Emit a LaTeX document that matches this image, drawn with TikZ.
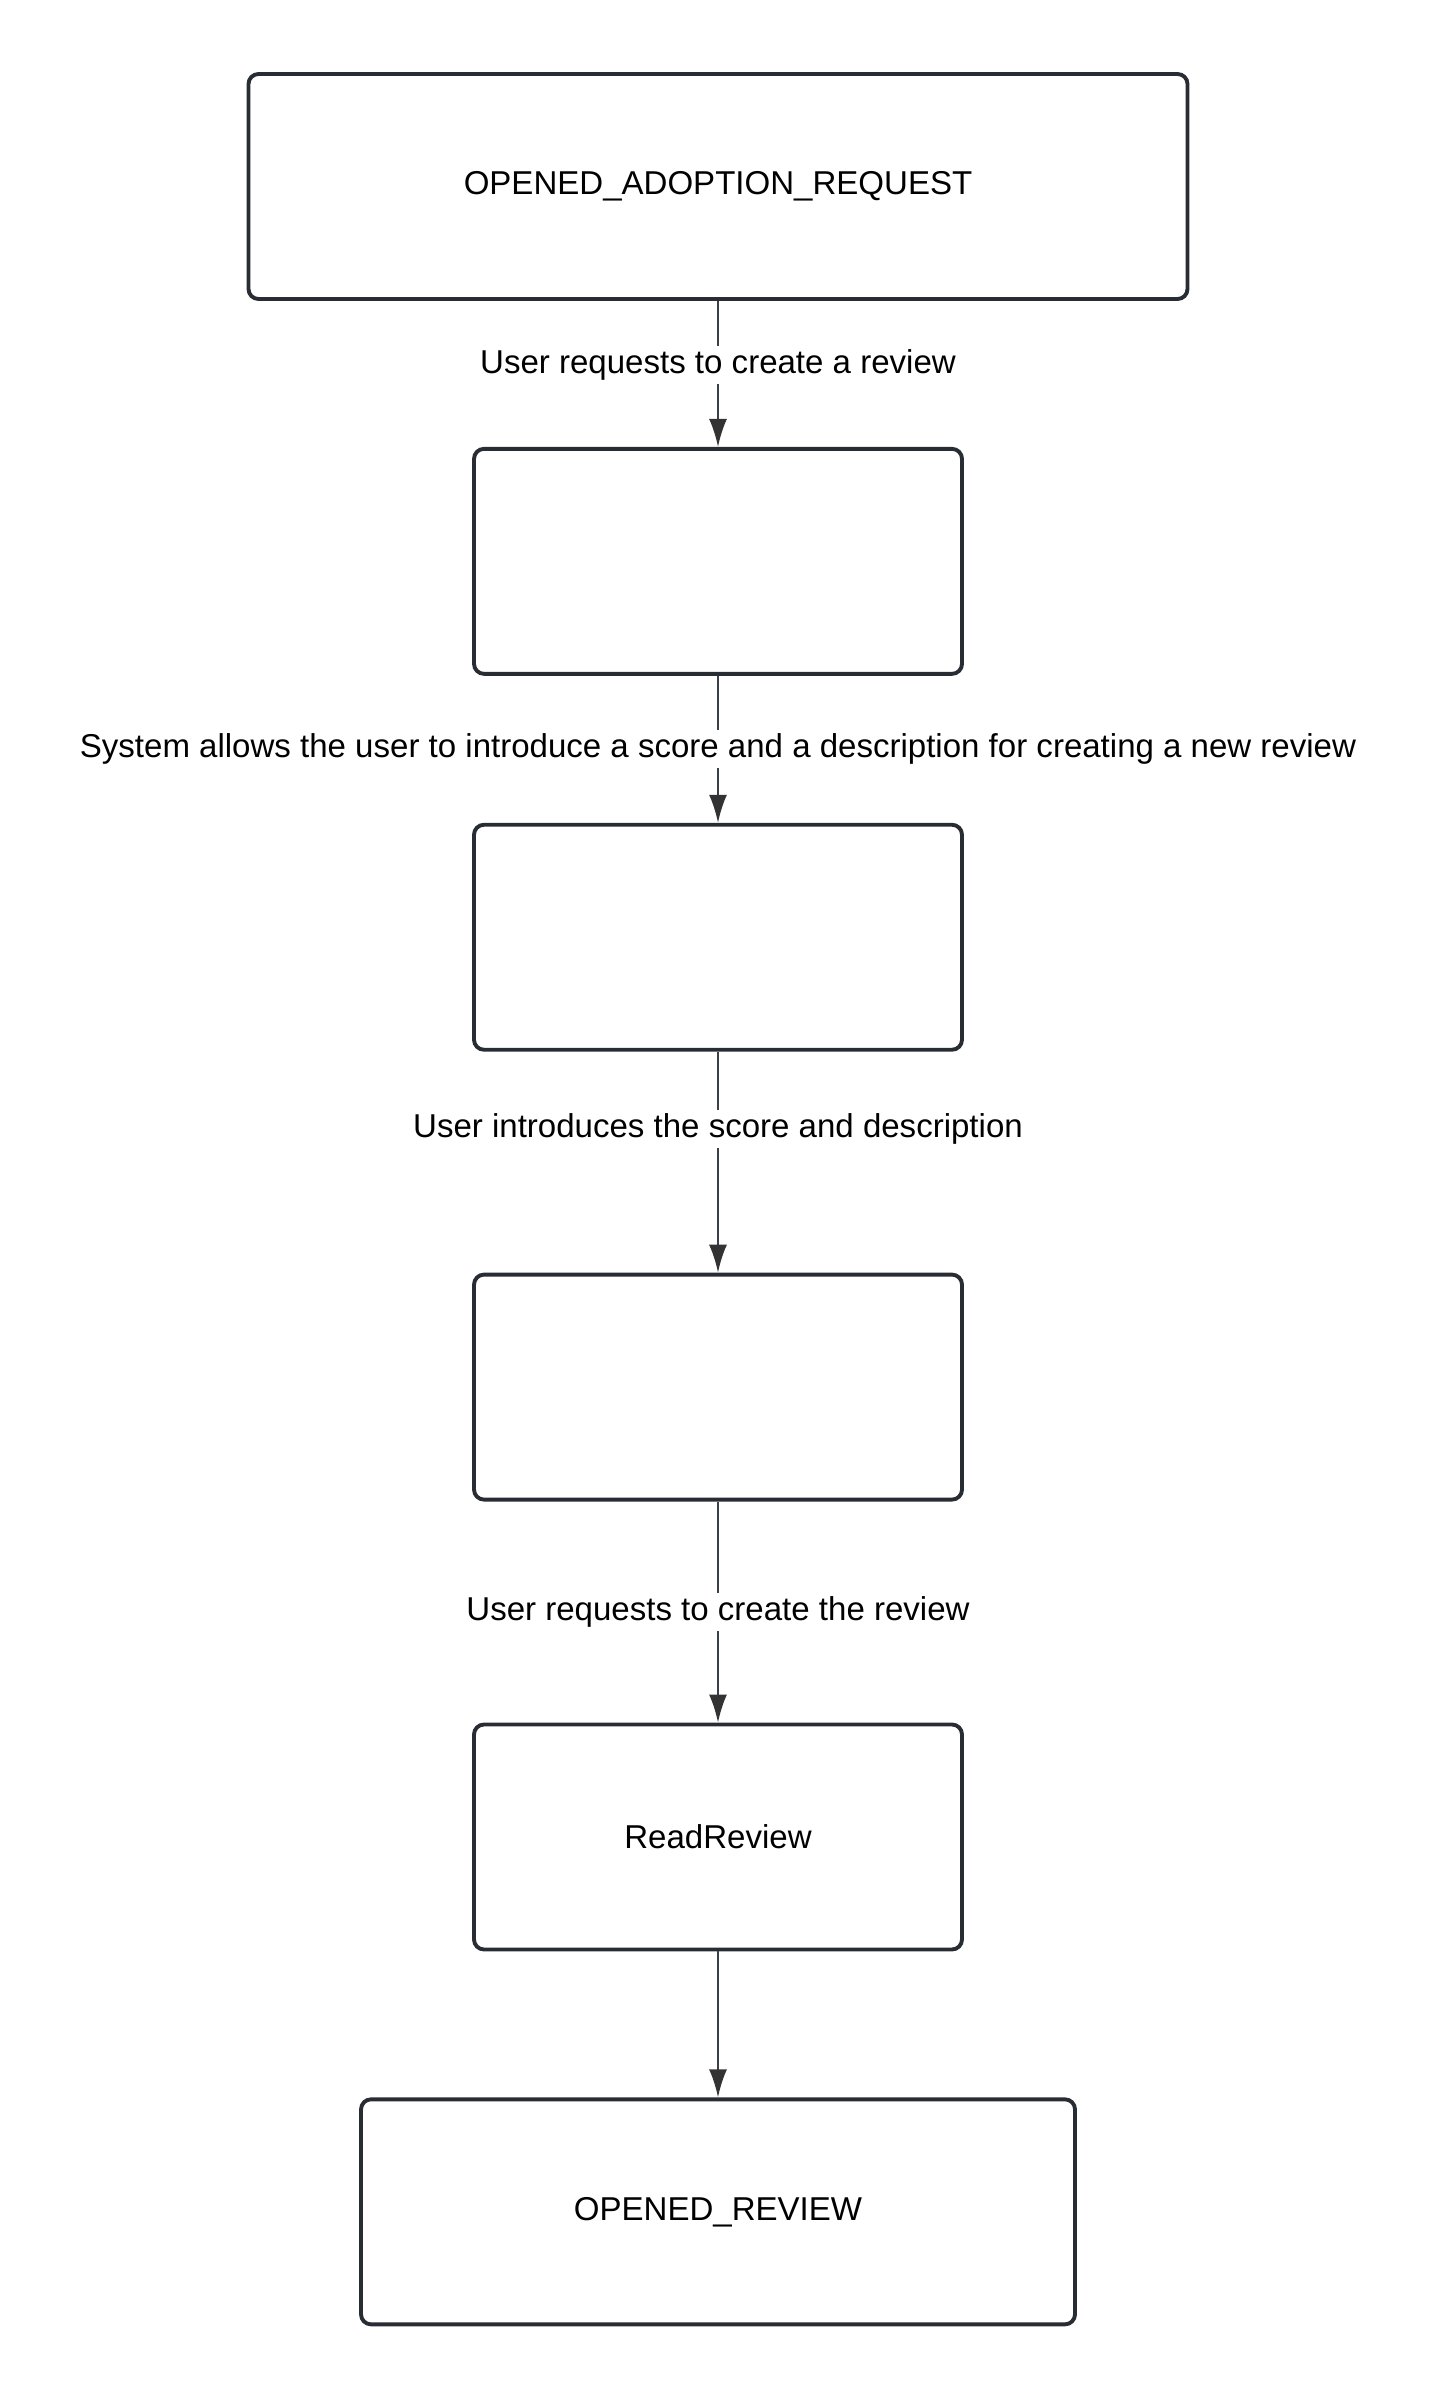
\documentclass[tikz,border=0pt]{standalone}
\usepackage{fontspec}
\setmainfont{Liberation Sans}
\usetikzlibrary{positioning,arrows.meta}
\definecolor{FlowBorder}{HTML}{282C33}
\definecolor{FlowLine}{HTML}{3A4048}
\definecolor{FlowTip}{HTML}{333333}
\tikzset{
  stateBox/.style={
    draw=FlowBorder,
    line width=1.1pt,
    rounded corners=0.1cm,
    fill=white,
    minimum height=2.25cm,
    font=\fontsize{9.4pt}{11pt}\selectfont,
    text=black,
    align=center
  },
  flowArrow/.style={
    line width=0.6pt,
    color=FlowLine,
    -{Latex[length=0.28cm,width=0.18cm,color=FlowTip]}
  },
  flowLabel/.style={
    fill=white,
    inner sep=1pt,
    font=\fontsize{9.4pt}{11pt}\selectfont,
    text=black
  }
}
\begin{document}
\begin{tikzpicture}
  \useasboundingbox (0,0) rectangle (14.36,-24);

  % Estados del flujo
  \node (opened_req) [stateBox, minimum width=9.39cm] at (7.18,-1.865) {OPENED\_ADOPTION\_REQUEST};
  \node (ask_review) [stateBox, below=1.46cm of opened_req, minimum width=4.88cm] {};
  \node (fill_form) [stateBox, below=1.47cm of ask_review, minimum width=4.88cm] {};
  \node (form_done) [stateBox, below=2.21cm of fill_form, minimum width=4.88cm] {};
  \node (read_review) [stateBox, below=2.21cm of form_done, minimum width=4.88cm] {ReadReview};
  \node (opened_review) [stateBox, below=1.46cm of read_review, minimum width=7.14cm] {OPENED\_REVIEW};

  % Transiciones
  \draw [flowArrow] (opened_req) --
    node[flowLabel, pos=0.44] {User requests to create a review} (ask_review);
  \draw [flowArrow] (ask_review) --
    node[flowLabel, pos=0.50] {System allows the user to introduce a score and a description for creating a new review} (fill_form);
  \draw [flowArrow] (fill_form) --
    node[flowLabel, pos=0.35] {User introduces the score and description} (form_done);
  \draw [flowArrow] (form_done) --
    node[flowLabel, pos=0.50] {User requests to create the review} (read_review);
  \draw [flowArrow] (read_review) -- (opened_review);
\end{tikzpicture}
\end{document}
